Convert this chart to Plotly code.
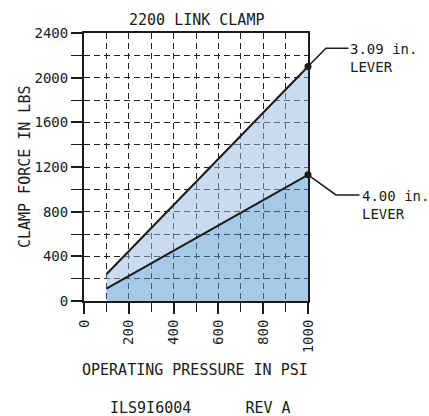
import plotly.graph_objects as go

# chart data
pressure = [100, 1000]
force_309 = [240, 2100]
force_400 = [110, 1130]
x_ticks = [0, 200, 400, 600, 800, 1000]
y_ticks = [0, 400, 800, 1200, 1600, 2000, 2400]

FONT = "DejaVu Sans Mono"
INK = "#1a1a1a"

fig = go.Figure()

# dark fill under the 4.00 in. lever line
fig.add_trace(go.Scatter(
    x=pressure, y=force_400, mode="lines", fill="tozeroy",
    fillcolor="rgba(80,145,205,0.5)", line=dict(color=INK, width=2),
    showlegend=False, hoverinfo="skip"
))
# light fill between the two lines
fig.add_trace(go.Scatter(
    x=pressure, y=force_309, mode="lines", fill="tonexty",
    fillcolor="rgba(147,185,223,0.5)", line=dict(color=INK, width=2),
    showlegend=False, hoverinfo="skip"
))
# end points
fig.add_trace(go.Scatter(
    x=[pressure[-1], pressure[-1]], y=[force_309[-1], force_400[-1]],
    mode="markers", marker=dict(color=INK, size=7), cliponaxis=False,
    showlegend=False, hoverinfo="skip"
))

# leader lines (paper coords, offset from the end points)
y_max = 2400
p1 = force_309[-1] / y_max
p2 = force_400[-1] / y_max
fig.add_shape(type="path", xref="paper", yref="paper",
              path=f"M 1 {p1} L 1.08 {p1 + 0.068} L 1.18 {p1 + 0.068}",
              line=dict(color=INK, width=1.5))
fig.add_shape(type="path", xref="paper", yref="paper",
              path=f"M 1 {p2} L 1.125 {p2 - 0.075} L 1.23 {p2 - 0.075}",
              line=dict(color=INK, width=1.5))

fig.add_annotation(xref="paper", yref="paper", x=1.18, y=p1 + 0.068,
                   text="3.09 in.<br>LEVER", showarrow=False, xanchor="left",
                   yanchor="top", yshift=9, align="left",
                   font=dict(family=FONT, size=14, color=INK))
fig.add_annotation(xref="paper", yref="paper", x=1.23, y=p2 - 0.075,
                   text="4.00 in.<br>LEVER", showarrow=False, xanchor="left",
                   yanchor="top", yshift=9, align="left",
                   font=dict(family=FONT, size=14, color=INK))

# titles / footer text
fig.add_annotation(xref="paper", yref="paper", x=0.5, y=1.048,
                   text="2200 LINK CLAMP", showarrow=False, xanchor="center",
                   yanchor="middle", font=dict(family=FONT, size=15, color=INK))
fig.add_annotation(xref="paper", yref="paper", x=-0.263, y=0.5,
                   text="CLAMP FORCE IN LBS", showarrow=False, textangle=-90,
                   xanchor="center", yanchor="middle",
                   font=dict(family=FONT, size=15, color=INK))
fig.add_annotation(xref="paper", yref="paper", x=0.495, y=-0.257,
                   text="OPERATING PRESSURE IN PSI", showarrow=False,
                   xanchor="center", yanchor="middle",
                   font=dict(family=FONT, size=15, color=INK))
fig.add_annotation(xref="paper", yref="paper", x=0.52, y=-0.399,
                   text="ILS9I6004      REV A", showarrow=False,
                   xanchor="center", yanchor="middle",
                   font=dict(family=FONT, size=15, color=INK))

grid = dict(showgrid=True, gridcolor="#222", gridwidth=1, griddash="6px,4px")

fig.update_xaxes(
    range=[0, 1000], tickvals=x_ticks, ticks="outside", ticklen=11,
    tickwidth=2, tickcolor=INK, tickangle=-90,
    tickfont=dict(family=FONT, size=14, color=INK),
    showline=True, linecolor=INK, linewidth=2, mirror=True, zeroline=False,
    minor=dict(dtick=100, ticks="outside", ticklen=9, tickwidth=1,
               tickcolor=INK, **grid),
    **grid
)
fig.update_yaxes(
    range=[0, 2400], tickvals=y_ticks, ticks="outside", ticklen=11,
    tickwidth=2, tickcolor=INK,
    tickfont=dict(family=FONT, size=14, color=INK),
    showline=True, linecolor=INK, linewidth=2, mirror=True, zeroline=False,
    minor=dict(dtick=200, ticks="outside", ticklen=11, tickwidth=1,
               tickcolor=INK, **grid),
    **grid
)

fig.update_layout(
    width=429, height=416,
    margin=dict(l=84, r=121, t=33, b=115, autoexpand=False),
    plot_bgcolor="white", paper_bgcolor="white",
    showlegend=False,
)

# page body has a default 8px margin; drop it so the figure sits at 0,0
fig.write_html("out.html", config={"displayModeBar": False},
               post_script="document.body.style.margin='0';")
